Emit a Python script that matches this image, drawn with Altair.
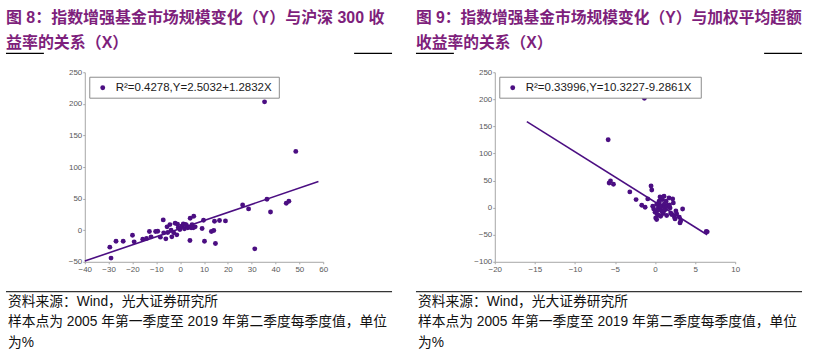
import altair as alt
import pandas as pd

# ---------------- data ----------------
# Panel 1: X = CSI 300 return, Y = enhanced-index fund scale change (%)
x1 = [-29.5, -29.0, -26.9, -23.9, -20.0, -19.3, -15.7, -14.1, -12.9, -12.2,
      -10.3, -9.4, -8.3, -7.1, -6.9, -6.0, -5.2, -5.5, -4.3, -3.8,
      -3.5, -2.7, -2.1, -1.4, -1.1, -0.1, 0.6, 1.3, 1.8, 2.7,
      3.2, 4.2, 4.1, 4.6, 5.0, 5.7, 5.5, 6.3, 9.2, 9.8,
      10.2, 13.1, 14.1, 14.4, 14.8, 16.5, 19.0, 26.2, 28.7, 31.3,
      35.4, 36.4, 37.9, 44.5, 45.6, 48.5, -0.8, 2.3]
y1 = [-26.8, -44.2, -17.4, -17.4, -7.9, -18.4, -14.2, -13.2, -2.1, -10.5,
      -2.1, -1.6, -11.0, 16.3, -4.2, -13.7, -3.7, 5.3, 8.9, 0.0,
      -10.5, -4.2, 11.0, -7.4, 9.5, 1.1, 6.3, 10.0, 2.1, 7.4,
      3.7, 18.9, -16.3, 3.7, 8.9, 22.1, 3.7, 5.3, 2.6, 15.8,
      -17.4, -2.1, -0.5, 14.2, -21.1, 15.3, 14.7, 40.0, 33.7, -29.5,
      203.2, 48.9, 28.9, 42.6, 45.8, 124.7, 4.0, 9.0]
fit1_x = [-40, 58]
fit1_y = [-48.8, 76.9]
legend1 = "R²=0.4278,Y=2.5032+1.2832X"

# Panel 2: X = weighted average excess return
x2 = [-1.33, -5.85, -5.73, -5.56, -5.19, -3.15, -2.37, -1.66, -1.24, -0.91,
      -0.50, -0.41, -0.29, -0.17, 0.00, 0.08, 0.20, 0.29, 0.41, 0.54,
      0.62, 0.75, 0.83, 0.91, 1.00, 1.12, 1.16, 1.29, 1.37, 1.45,
      1.62, 1.74, 1.87, 1.95, 2.07, 2.20, 2.28, 2.41, 2.49, 2.70,
      3.03, 3.11, 3.20, 3.44, 6.51, 6.39,
      0.3, 0.6, 0.9, 1.2, 0.5, 1.5, 0.2, 0.7, 1.8, 1.1, 0.4, 2.6]
y2 = [202.1, 125.4, 45.5, 49.2, 43.1, 29.0, 14.8, 4.4, 0.7, 16.1,
      40.0, 32.6, 2.5, -2.4, -8.5, -19.0, -22.0, -12.8, -0.5, 8.7,
      19.7, -4.8, 2.5, 14.8, -11.0, 21.0, 6.8, -3.6, 11.8, -14.6,
      4.4, 17.9, -0.5, -9.7, -12.8, 16.1, 8.7, -17.1, -20.8, -11.6,
      -17.7, -28.2, -24.5, -2.4, -44.7, -44.1,
      -5, 3, -8, 0, 12, 2, 6, -16, 5, -6, -14, -6]
fit2_x = [-16, 6.5]
fit2_y = [158.9, -50.0]
legend2 = "R²=0.33996,Y=10.3227-9.2861X"

title1 = ["图 8：指数增强基金市场规模变化（Y）与沪深 300 收", "益率的关系（X）"]
title2 = ["图 9：指数增强基金市场规模变化（Y）与加权平均超额", "收益率的关系（X）"]
notes = ["资料来源：Wind，光大证券研究所",
         "样本点为 2005 年第一季度至 2019 年第二季度每季度值，单位",
         "为%"]

x1_ticks = list(range(-40, 61, 10))
y1_ticks = list(range(-50, 251, 50))
x2_ticks = list(range(-20, 11, 5))
y2_ticks = list(range(-100, 251, 50))

# ---------------- styling ----------------
PURPLE = "#4B0E82"
TITLE_C = "#7E1F7C"
FONT_CJK = "Liberation Sans, Noto Sans CJK SC"
one = pd.DataFrame({"k": [0]})


def panel(xs, ys, lx, ly, xdom, ydom, xt, yt, W, H, legend_text, legend_w, titles, tsize):
    df = pd.DataFrame({"x": xs, "y": ys})
    ldf = pd.DataFrame({"x": lx, "y": ly})
    xsc = alt.Scale(domain=xdom, nice=False, zero=False)
    ysc = alt.Scale(domain=ydom, nice=False, zero=False)
    xax = alt.Axis(values=xt, title=None, grid=False, tickSize=2, labelPadding=2,
                   labelFlush=False, labelOverlap=False)
    yax = alt.Axis(values=yt, title=None, grid=False, tickSize=2, labelPadding=1,
                   labelFlush=False, labelOverlap=False)

    line = alt.Chart(ldf).mark_line(color=PURPLE, strokeWidth=1.6).encode(
        x=alt.X("x:Q", scale=xsc, axis=xax),
        y=alt.Y("y:Q", scale=ysc, axis=yax),
    )
    pts = alt.Chart(df).mark_circle(color=PURPLE, size=24, opacity=1).encode(
        x=alt.X("x:Q", scale=xsc, axis=xax),
        y=alt.Y("y:Q", scale=ysc, axis=yax),
    )
    box = alt.Chart(one).mark_rect(fill="white", stroke="#8c8c8c", strokeWidth=1).encode(
        x=alt.value(5), x2=alt.value(5 + legend_w), y=alt.value(5), y2=alt.value(26)
    )
    ldot = alt.Chart(one).mark_circle(color=PURPLE, size=24, opacity=1).encode(
        x=alt.value(18), y=alt.value(15.5)
    )
    ltxt = alt.Chart(one).mark_text(
        text=legend_text, align="left", baseline="middle", fontSize=11.5,
        font="Liberation Sans", color="#1a1a1a"
    ).encode(x=alt.value(31), y=alt.value(16))

    layers = [line, pts, box, ldot, ltxt]

    # titles
    for i, t in enumerate(titles):
        layers.append(
            alt.Chart(one).mark_text(
                text=t, align="left", baseline="middle", fontSize=tsize,
                fontWeight="bold", font=FONT_CJK, color=TITLE_C
            ).encode(x=alt.value(-79), y=alt.value(-54 + 25 * i))
        )
    # short underline rules below title
    for xa, xb in [(-79, -41), (270, 308)]:
        layers.append(
            alt.Chart(one).mark_rule(color="#000000", strokeWidth=1.2).encode(
                x=alt.value(xa), x2=alt.value(xb), y=alt.value(-19)
            )
        )
    # footnote rule
    layers.append(
        alt.Chart(one).mark_rule(color="#000000", strokeWidth=1).encode(
            x=alt.value(-79), x2=alt.value(308), y=alt.value(220)
        )
    )
    # footnotes
    for i, t in enumerate(notes):
        layers.append(
            alt.Chart(one).mark_text(
                text=t, align="left", baseline="middle", fontSize=13.8,
                font=FONT_CJK, color="#111111"
            ).encode(x=alt.value(-77), y=alt.value(230 + 20.5 * i))
        )
    # invisible right-bound marker (keeps both panels the same footprint)
    layers.append(
        alt.Chart(one).mark_rule(color="white", strokeWidth=1, opacity=0).encode(
            x=alt.value(320), y=alt.value(-50), y2=alt.value(-45)
        )
    )
    return alt.layer(*layers).properties(width=W, height=H)


p1 = panel(x1, y1, fit1_x, fit1_y, [-40, 60], [-50, 250], x1_ticks, y1_ticks,
           239, 190, legend1, 190, title1, 16)
p2 = panel(x2, y2, fit2_x, fit2_y, [-20, 10], [-100, 250], x2_ticks, y2_ticks,
           241, 190, legend2, 202, title2, 15.8)

chart = alt.hconcat(p1, p2, spacing=11).properties(
    padding={"left": 5, "top": 10, "right": 0, "bottom": 0},
    background="white",
).configure_view(stroke=None).configure_axis(
    domainColor="#a6a6a6", tickColor="#a6a6a6", labelColor="#595959",
    labelFontSize=8, labelFont="Liberation Sans", domainWidth=1,
    labelOverlap=False, labelFlush=False,
)

chart.save("out.html", embed_options={"renderer": "svg", "actions": False})
